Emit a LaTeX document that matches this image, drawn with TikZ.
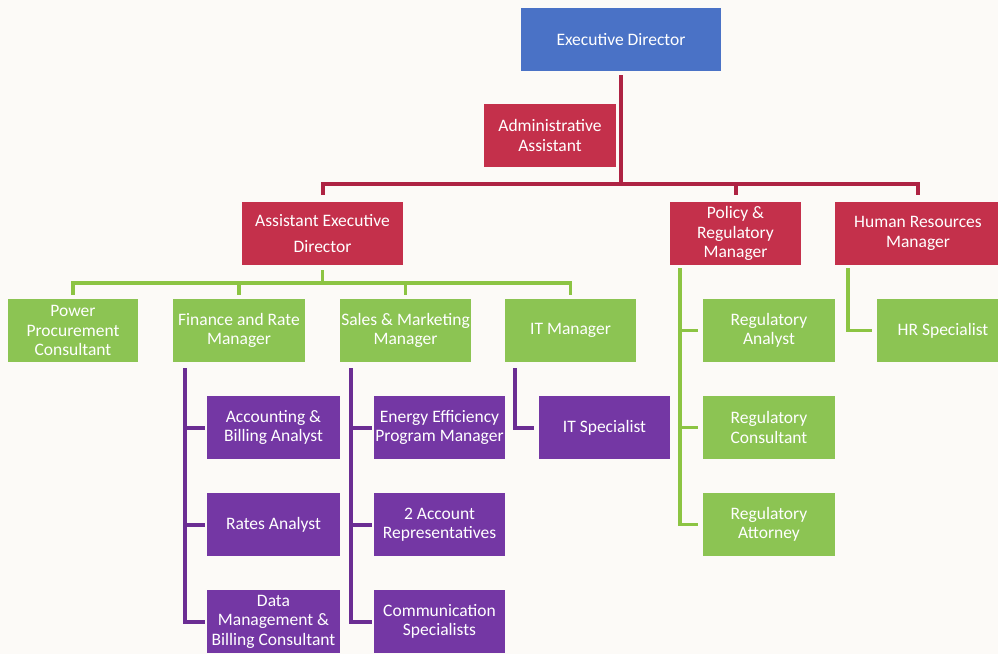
\documentclass[tikz,border=0pt]{standalone}
\usepackage{fontspec}
\setmainfont{Carlito}
\definecolor{edblue}{HTML}{4A72C6}
\definecolor{mgred}{HTML}{C4304B}
\definecolor{lvgreen}{HTML}{8CC453}
\definecolor{stpurple}{HTML}{7437A4}
\definecolor{redln}{HTML}{AE2343}
\definecolor{greenln}{HTML}{8CC443}
\definecolor{purpleln}{HTML}{6B2D93}
\definecolor{bg}{HTML}{FCFAF7}
\tikzset{
  box/.style={rectangle, inner sep=0pt, text=white, align=center,
    font=\fontsize{17.5}{19.5}\selectfont, minimum height=63pt},
  bluebox/.style={box, fill=edblue},
  redbox/.style={box, fill=mgred},
  greenbox/.style={box, fill=lvgreen},
  purplebox/.style={box, fill=stpurple},
  redline/.style={draw=redln, line width=4pt},
  greenline/.style={draw=greenln, line width=3.5pt},
  purpleline/.style={draw=purpleln, line width=4pt},
}
\begin{document}
\begin{tikzpicture}[x=1pt,y=-1pt]
\fill[bg] (0,0) rectangle (998,654);
\useasboundingbox (0,0) rectangle (998,654);
% level 0/1
\node[bluebox, minimum width=200pt] (ed) at (621,39.5) {Executive Director};
\node[redbox, minimum width=132pt] (adm) at (550,135.5) {Administrative\\Assistant};
\node[redbox, minimum width=161pt] (aed) at (322.5,233.5) {Assistant Executive\\[7pt]Director};
\node[redbox, minimum width=131pt] (pol) at (735.5,233.5) {Policy \&\\Regulatory\\Manager};
\node[redbox, minimum width=166pt] (hr) at (918,233.5) {Human Resources\\Manager};
% level 2
\node[greenbox, minimum width=130pt] (pow) at (73,330.5) {Power\\Procurement\\Consultant};
\node[greenbox, minimum width=132pt] (fin) at (239,330.5) {Finance and Rate\\Manager};
\node[greenbox, minimum width=131pt] (sal) at (405.5,330.5) {Sales \& Marketing\\Manager};
\node[greenbox, minimum width=131pt] (itm) at (570.5,330.5) {IT Manager};
\node[greenbox, minimum width=132pt] (ra) at (769,330.5) {Regulatory\\Analyst};
\node[greenbox, minimum width=132pt] (rc) at (769,427.5) {Regulatory\\Consultant};
\node[greenbox, minimum width=132pt] (rt) at (769,524.5) {Regulatory\\Attorney};
\node[greenbox, minimum width=132pt] (hrs) at (943,330.5) {HR Specialist};
% level 3
\node[purplebox, minimum width=133pt] (acc) at (273.5,427.5) {Accounting \&\\Billing Analyst};
\node[purplebox, minimum width=133pt] (rat) at (273.5,524.5) {Rates Analyst};
\node[purplebox, minimum width=133pt] (dat) at (273.5,621.5) {Data\\Management \&\\Billing Consultant};
\node[purplebox, minimum width=131pt] (een) at (439.5,427.5) {Energy Efficiency\\Program Manager};
\node[purplebox, minimum width=131pt] (acr) at (439.5,524.5) {2 Account\\Representatives};
\node[purplebox, minimum width=131pt] (com) at (439.5,621.5) {Communication\\Specialists};
\node[purplebox, minimum width=131pt] (its) at (604.5,427.5) {IT Specialist};
% red connectors
\coordinate (bar) at (621,184);
\draw[redline, shorten <=4pt] (ed.south) -- (bar);
\draw[redline, shorten <=7pt, shorten >=7pt] (aed.north) |- (bar) -| (hr.north);
\draw[redline, shorten >=7pt] (pol.north |- bar) -- (pol.north);
% green connectors
\coordinate (gbar) at (322.5,283);
\draw[greenline, shorten <=5pt] (aed.south) -- (gbar);
\draw[greenline, shorten <=4pt, shorten >=4pt] (pow.north) |- (gbar) -| (itm.north);
\draw[greenline, shorten >=4pt] (fin.north |- gbar) -- (fin.north);
\draw[greenline, shorten >=4pt] (sal.north |- gbar) -- (sal.north);
\coordinate (pv) at ([xshift=10pt,yshift=-3pt]pol.south west);
\draw[greenline, shorten >=5pt] (pv) |- (rt.west);
\draw[greenline, shorten >=5pt] (pv |- ra.west) -- (ra.west);
\draw[greenline, shorten >=5pt] (pv |- rc.west) -- (rc.west);
\coordinate (hv) at ([xshift=13pt,yshift=-3pt]hr.south west);
\draw[greenline, shorten >=5pt] (hv) |- (hrs.west);
% purple connectors
\coordinate (fv) at ([xshift=12pt,yshift=-6pt]fin.south west);
\draw[purpleline, shorten >=2pt] (fv) |- (dat.west);
\draw[purpleline, shorten >=2pt] (fv |- acc.west) -- (acc.west);
\draw[purpleline, shorten >=2pt] (fv |- rat.west) -- (rat.west);
\coordinate (sv) at ([xshift=11pt,yshift=-6pt]sal.south west);
\draw[purpleline, shorten >=2pt] (sv) |- (com.west);
\draw[purpleline, shorten >=2pt] (sv |- een.west) -- (een.west);
\draw[purpleline, shorten >=2pt] (sv |- acr.west) -- (acr.west);
\coordinate (iv) at ([xshift=10pt,yshift=-6pt]itm.south west);
\draw[purpleline, shorten >=5pt] (iv) |- (its.west);
\end{tikzpicture}
\end{document}
